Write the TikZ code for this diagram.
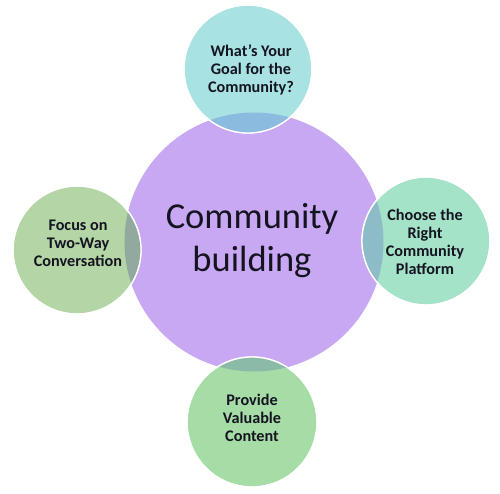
\documentclass[tikz,border=0pt]{standalone}
\usepackage{fontspec}
\setmainfont{Carlito}
\definecolor{bigc}{HTML}{C8A8F2}
\definecolor{topc}{HTML}{A9E2E2}
\definecolor{topo}{HTML}{8CBBE0}
\definecolor{rightc}{HTML}{A5E3C9}
\definecolor{righto}{HTML}{8DBCC8}
\definecolor{leftc}{HTML}{B4D5A5}
\definecolor{lefto}{HTML}{92A99F}
\definecolor{botc}{HTML}{A6DDA6}
\definecolor{boto}{HTML}{8BBBA8}
\definecolor{txt}{HTML}{141420}
\tikzset{
  smallc/.style={circle, inner sep=0pt, minimum size=128pt, draw=white, line width=1.3pt},
  smalltxt/.style={align=center, font=\fontsize{16.2}{18}\selectfont\bfseries, text=txt},
  bigtxt/.style={align=center, font=\fontsize{36.5}{43}\selectfont, text=txt}
}
\begin{document}
\begin{tikzpicture}[x=1pt,y=-1pt]
\useasboundingbox (0,0) rectangle (500,493);
\fill[white] (0,0) rectangle (500,493);
% central circle
\node[circle, fill=bigc, inner sep=0pt, minimum size=259pt] (big) at (254,242) {};
% small circles
\node[smallc, fill=topc] (top) at (248,69) {};
\node[smallc, fill=rightc] (right) at (426,241) {};
\node[smallc, fill=leftc] (left) at (77,250) {};
\node[smallc, fill=botc, minimum size=130pt] (bot) at (252,422) {};
% overlaps
\begin{scope}
  \clip (254,242) circle (129.5pt);
  \fill[topo] (248,69) circle (64pt);
  \fill[righto] (426,241) circle (64pt);
  \fill[lefto] (77,250) circle (64pt);
  \fill[boto] (252,422) circle (65pt);
\end{scope}
\draw[white, line width=1.3pt] (top.center) circle (64pt);
\draw[white, line width=1.3pt] (right.center) circle (64pt);
\draw[white, line width=1.3pt] (left.center) circle (64pt);
\draw[white, line width=1.3pt] (bot.center) circle (65pt);
% texts
\node[bigtxt] (bigt) at (252,241) {Community\\building};
\node[smalltxt] (topt) at (251,70) {What’s Your\\Goal for the\\Community?};
\node[smalltxt] (rightt) at (425,242) {Choose the\\Right\\Community\\Platform};
\node[smalltxt] (leftt) at (78,243) {Focus on\\Two-Way\\Conversation};
\node[smalltxt] (bott) at (252,418) {Provide\\Valuable\\Content};
\end{tikzpicture}
\end{document}
